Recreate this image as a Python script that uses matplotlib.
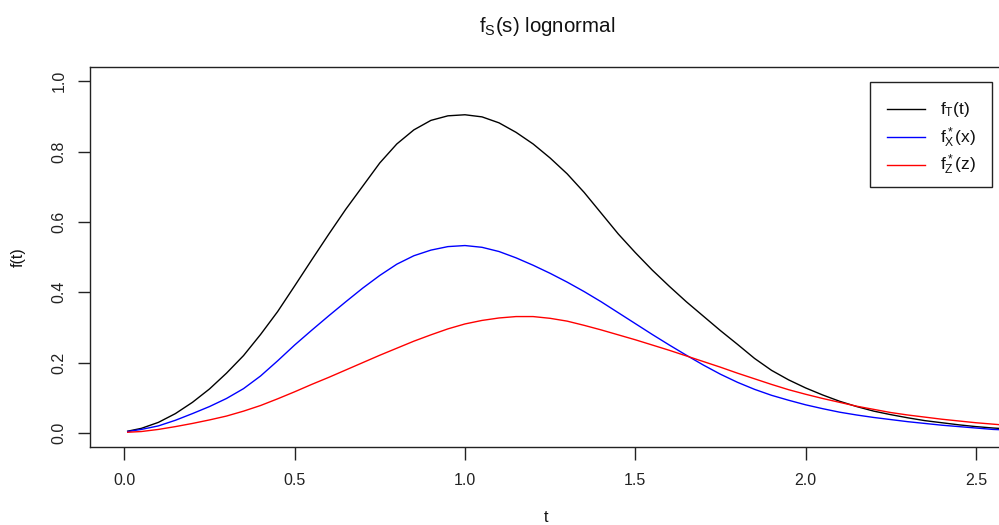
import matplotlib
matplotlib.use("Agg")
import matplotlib.pyplot as plt
from matplotlib.lines import Line2D
from matplotlib.patches import Rectangle

plt.rcParams['font.family'] = ['Liberation Sans', 'DejaVu Sans']
plt.rcParams['mathtext.default'] = 'regular'

# density curves on a common grid of t
t = [0.01, 0.05, 0.1, 0.15, 0.2, 0.25, 0.3, 0.35, 0.4, 0.45, 0.5, 0.55, 0.6,
     0.65, 0.7, 0.75, 0.8, 0.85, 0.9, 0.95, 1.0, 1.05, 1.1, 1.15, 1.2, 1.25,
     1.3, 1.35, 1.4, 1.45, 1.5, 1.55, 1.6, 1.65, 1.7, 1.75, 1.8, 1.85, 1.9,
     1.95, 2.0, 2.05, 2.1, 2.15, 2.2, 2.25, 2.3, 2.35, 2.4, 2.45, 2.5, 2.55,
     2.6, 2.7]
f_T = [0.005, 0.013, 0.030, 0.055, 0.087, 0.125, 0.170, 0.220, 0.280, 0.345,
       0.418, 0.492, 0.565, 0.636, 0.702, 0.768, 0.822, 0.862, 0.889, 0.902,
       0.905, 0.899, 0.882, 0.855, 0.822, 0.782, 0.737, 0.684, 0.625, 0.566,
       0.513, 0.463, 0.417, 0.373, 0.332, 0.291, 0.252, 0.212, 0.178, 0.151,
       0.128, 0.108, 0.090, 0.075, 0.062, 0.052, 0.043, 0.035, 0.029, 0.023,
       0.018, 0.014, 0.011, 0.007]
f_X = [0.004, 0.010, 0.020, 0.036, 0.055, 0.075, 0.098, 0.126, 0.162, 0.205,
       0.250, 0.292, 0.333, 0.373, 0.412, 0.448, 0.480, 0.504, 0.520, 0.530,
       0.533, 0.528, 0.516, 0.498, 0.477, 0.454, 0.429, 0.402, 0.373, 0.342,
       0.311, 0.280, 0.250, 0.221, 0.193, 0.167, 0.144, 0.124, 0.107, 0.093,
       0.080, 0.069, 0.059, 0.051, 0.044, 0.038, 0.032, 0.027, 0.022, 0.018,
       0.014, 0.010, 0.008, 0.005]
f_Z = [0.002, 0.004, 0.010, 0.018, 0.027, 0.037, 0.048, 0.062, 0.078, 0.097,
       0.117, 0.138, 0.158, 0.179, 0.200, 0.221, 0.241, 0.261, 0.279, 0.296,
       0.310, 0.320, 0.327, 0.331, 0.331, 0.326, 0.318, 0.306, 0.293, 0.279,
       0.265, 0.250, 0.235, 0.219, 0.203, 0.187, 0.170, 0.154, 0.138, 0.123,
       0.110, 0.098, 0.087, 0.076, 0.067, 0.058, 0.051, 0.045, 0.039, 0.034,
       0.029, 0.025, 0.021, 0.015]

x_ticks = [0.0, 0.5, 1.0, 1.5, 2.0, 2.5]
y_ticks = [0.0, 0.2, 0.4, 0.6, 0.8, 1.0]
series_labels = [r'$f_T(t)$', r'$f_X^*(x)$', r'$f_Z^*(z)$']
series_colors = ['black', 'blue', 'red']

W, H = 999, 525
fig = plt.figure(figsize=(W / 100, H / 100), dpi=100)


def fx(px):
    return px / W


def fy(py):
    return 1 - py / H


left, right, top, bottom = 90.3, 1001.5, 67.3, 447.0
ax = fig.add_axes([fx(left), fy(bottom), fx(right - left), fy(top) - fy(bottom)])

for ys, c in zip([f_T, f_X, f_Z], series_colors):
    ax.plot(t, ys, color=c, lw=1.0)

ax.set_xlim(-0.0998, 2.575)
ax.set_ylim(-0.04, 1.04)
ax.set_xticks(x_ticks)
ax.set_xticklabels([f"{v:.1f}" for v in x_ticks])
ax.set_yticks(y_ticks)
ax.set_yticklabels([f"{v:.1f}" for v in y_ticks], rotation=90, va='center')
ax.tick_params(direction='out', length=9, width=1.0, labelsize=11.5,
               colors='#222222', labelcolor='#222222')
ax.tick_params(axis='x', pad=10)
ax.tick_params(axis='y', pad=8)
for s in ax.spines.values():
    s.set_linewidth(1.0)
    s.set_color('#222222')

fig.text(fx(547), fy(32), r'$f_S(s)$ lognormal', ha='center', va='baseline',
         fontsize=14.8, color='#111111')
fig.text(fx(546), fy(518), 't', ha='center', va='center', fontsize=11.5,
         color='#111111')
fig.text(fx(18), fy(257), 'f(t)', ha='center', va='center', rotation=90,
         fontsize=11.5, color='#111111')

# legend box
lx0, lx1, ly0, ly1 = 869.5, 991.5, 81.7, 186.7
fig.add_artist(Rectangle((fx(lx0), fy(ly1)), fx(lx1 - lx0), fy(ly0) - fy(ly1),
                         transform=fig.transFigure, fill=True, facecolor='white',
                         edgecolor='#222222', lw=1.0, zorder=5))
rows = [109.3, 137.3, 165.0]
for lab, c, ry in zip(series_labels, series_colors, rows):
    fig.add_artist(Line2D([fx(886.7), fx(925)], [fy(ry), fy(ry)],
                          transform=fig.transFigure, color=c, lw=1.0, zorder=6))
    fig.text(fx(940), fy(ry), lab, ha='left', va='center', fontsize=12.5,
             color='#111111', zorder=6)

fig.savefig('out.png', dpi=100, facecolor='white')
